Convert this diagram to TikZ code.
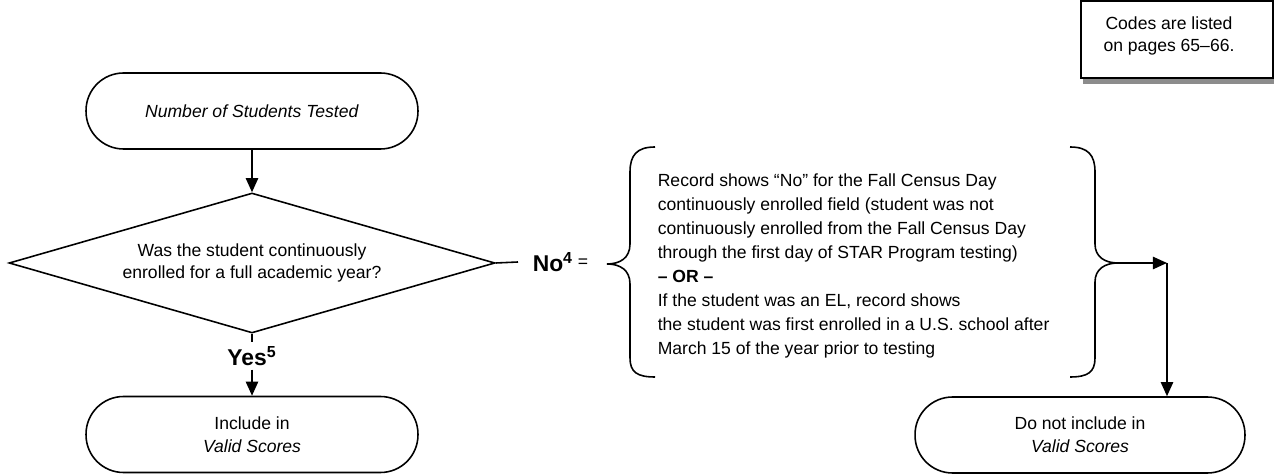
\documentclass[tikz,border=0pt]{standalone}
\usepackage{fontspec}
\setmainfont{Liberation Sans}
\usetikzlibrary{shapes.geometric,arrows.meta,shadows}

\tikzset{
  term/.style={draw, rounded corners=0.75cm, minimum width=6.64cm,
    minimum height=1.52cm, align=center, font=\fontsize{10}{13}\selectfont},
  decision/.style={draw, diamond, shape aspect=3.47, minimum width=9.72cm,
    minimum height=2.8cm, inner sep=1pt, align=center,
    font=\fontsize{10}{13}\selectfont},
  answer/.style={font=\fontsize{13}{15}\selectfont\bfseries, inner sep=2pt},
}

\begin{document}
\begin{tikzpicture}[x=0.02cm,y=-0.02cm,>={Triangle[length=8pt,width=7pt]},line width=0.9pt]
    \useasboundingbox (0,0) rectangle (1274,475);
    \node[draw, fill=white, minimum width=3.84cm, minimum height=1.54cm,
      drop shadow={shadow xshift=0.04cm, shadow yshift=-0.12cm, fill=black!45, opacity=1}]
      (codes) at (1177,39.5) {};
    \node[align=center, font=\fontsize{10}{12.5}\selectfont] (codesnote) at (1169,36)
      {Codes are listed\\on pages 65–66.};
    \node[term] (start) at (252,111) {\textit{Number of Students Tested}};
    \node[decision] (dia) at (252,263) {Was the student continuously\\enrolled for a full academic year?};
    \node[answer] (yes) at (252,356) {Yes\textsuperscript{5}};
    \node[term] (inc) at (252,434.5) {Include in\\\textit{Valid Scores}};
    \node[answer, anchor=west, inner sep=0pt] (no) at (532,262) {No\textsuperscript{4}};
    \node[font=\fontsize{10}{12}\selectfont] (eq) at (583,263) {=};
    \node[align=left, anchor=west, inner sep=0pt, font=\fontsize{10}{13.6}\selectfont]
      (rule) at (657,266) {Record shows “No” for the Fall Census Day\\
      continuously enrolled field (student was not\\
      continuously enrolled from the Fall Census Day\\
      through the first day of STAR Program testing)\\
      \textbf{– OR –}\\
      If the student was an EL, record shows\\
      the student was first enrolled in a U.S. school after\\
      March 15 of the year prior to testing};
    \node[term, minimum width=6.6cm] (dni) at (1080,435) {Do not include in\\\textit{Valid Scores}};
    \coordinate (rtip) at (1118,263);
    \coordinate (corner) at (1167,263);
    \draw[->] (start) -- (dia);
    \draw (dia.south) -- (yes);
    \draw[->] (yes) -- (inc);
    \draw (dia.east) -- ([xshift=-0.28cm]no.west);
    % braces round the rule
    \draw (655,147) .. controls (637,147) and (630,155) .. (630,172) -- (630,244)
      .. controls (630,258) and (620,264) .. (607,264)
      .. controls (620,264) and (630,270) .. (630,284) -- (630,358)
      .. controls (630,372) and (637,377) .. (655,377);
    \draw (1070,147) .. controls (1088,147) and (1095,155) .. (1095,172) -- (1095,244)
      .. controls (1095,257) and (1105,263) .. (1118,263)
      .. controls (1105,263) and (1095,269) .. (1095,282) -- (1095,358)
      .. controls (1095,372) and (1088,377) .. (1070,377);
    \draw[->] (rtip) -- (corner);
    \draw[->] (corner) -- (corner |- dni.north);
  \end{tikzpicture}
\end{document}
